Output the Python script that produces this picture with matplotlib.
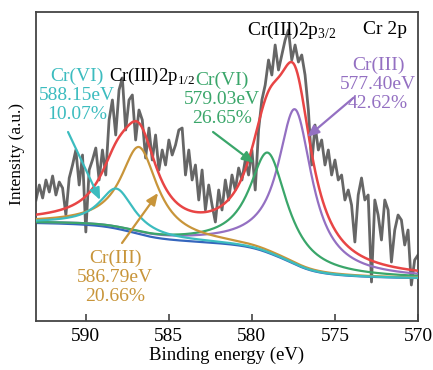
import numpy as np
import matplotlib
matplotlib.use("Agg")
import matplotlib.pyplot as plt

plt.rcParams['font.family'] = ['Liberation Serif', 'DejaVu Serif']
plt.rcParams['mathtext.fontset'] = 'custom'
plt.rcParams['mathtext.rm'] = 'Liberation Serif'

# measured spectrum (binding energy 593 -> 570 eV, 0.2 eV step)
energy = np.linspace(593.0, 570.0, 116)
counts = [121, 136, 123, 141, 129, 145, 126, 139, 133, 106,
          143, 156, 171, 136, 166, 89, 151, 161, 173, 141,
          171, 146, 201, 221, 186, 231, 243, 191, 221, 226,
          181, 211, 201, 163, 193, 161, 186, 151, 171, 156,
          181, 166, 176, 191, 193, 146, 171, 141, 156, 121,
          151, 111, 136, 116, 99, 131, 111, 141, 121, 146,
          131, 153, 141, 161, 146, 171, 131, 191, 221, 236,
          261, 246, 276, 251, 266, 281, 291, 261, 276, 259,
          266, 246, 211, 156, 196, 171, 181, 156, 171, 146,
          161, 141, 146, 121, 131, 116, 79, 126, 143, 121,
          126, 39, 121, 106, 81, 121, 111, 59, 91, 106,
          101, 76, 91, 36, 61, 66]

# fitted components
peak_names = ['Cr(VI)', 'Cr(III)', 'Cr(VI)', 'Cr(III)']
peak_pos = [588.15, 586.79, 579.03, 577.40]
peak_area = ['10.07%', '20.66%', '26.65%', '42.62%']
peak_height = [40, 87, 100, 155]
peak_hwhm = [1.25, 1.35, 1.35, 1.25]
peak_colors = ['#3cbcbf', '#c8953a', '#3aa66a', '#9470c2']
bg_high = 98   # background level at 593 eV
bg_low = 43    # background level at 570 eV

xf = np.linspace(593.0, 570.0, 600)
peaks = [h / (1 + ((xf - c) / w) ** 2) for c, h, w in zip(peak_pos, peak_height, peak_hwhm)]
total = np.sum(peaks, axis=0)
# shirley-type background: step follows the integrated signal
cum = np.concatenate([[0], np.cumsum((total[1:] + total[:-1]) / 2)])
cum = cum[-1] - cum
bg = bg_low + (bg_high - bg_low) * cum / cum[0]
envelope = bg + total

fig = plt.figure(figsize=(4.33, 3.70), dpi=100)
ax = fig.add_axes([36 / 433, 1 - 321 / 370, 382 / 433, 309 / 370])

ax.plot(energy, counts, color='#666666', lw=2.0, zorder=1)
ax.plot(xf, bg, color='#3566bd', lw=1.6, zorder=2)
for i in [3, 2, 1, 0]:
    ax.plot(xf, bg + peaks[i], color=peak_colors[i], lw=1.6, zorder=3)
ax.plot(xf, envelope, color='#e84545', lw=1.8, zorder=4)

ax.set_xlim(593, 570)
ax.set_ylim(0, 309)
ax.set_xticks([590, 585, 580, 575, 570])
ax.set_yticks([])
ax.tick_params(axis='x', direction='in', length=5, width=1.2, color='#444444',
               labelsize=14, pad=5)
for s in ax.spines.values():
    s.set_color('#444444')
    s.set_linewidth(1.3)
ax.set_xlabel('Binding energy (eV)', fontsize=13.5, labelpad=1)
ax.set_ylabel('Intensity (a.u.)', fontsize=12.5)
ax.yaxis.set_label_coords(-0.028, 0.54)

# labels of the components
text_xy = [(590.53, 226), (588.24, 44), (581.80, 222), (572.40, 237)]
arrow_from = [(591.07, 189), (587.82, 78), (582.34, 189), (573.90, 223)]
arrow_to = [(589.14, 121), (585.65, 128), (579.87, 158), (576.67, 184)]
for i in range(4):
    label = f'{peak_names[i]}\n{peak_pos[i]:.2f}eV\n{peak_area[i]}'
    ax.text(text_xy[i][0], text_xy[i][1], label, color=peak_colors[i], fontsize=14,
            ha='center', va='center', linespacing=1.15, zorder=5)
    ax.annotate('', xy=arrow_to[i], xytext=arrow_from[i],
                arrowprops=dict(arrowstyle='-|>,head_length=0.7,head_width=0.3',
                                color=peak_colors[i], lw=1.6, shrinkA=0, shrinkB=0),
                zorder=5)

ax.text(588.62, 245, r'Cr(III)2p$_{1/2}$', fontsize=13.5, ha='left', va='center', zorder=5)
ax.text(580.29, 291, r'Cr(III)2p$_{3/2}$', fontsize=14, ha='left', va='center', zorder=5)
ax.text(573.30, 291, 'Cr 2p', fontsize=14, ha='left', va='center', zorder=5)

fig.savefig('out.png', dpi=100)
